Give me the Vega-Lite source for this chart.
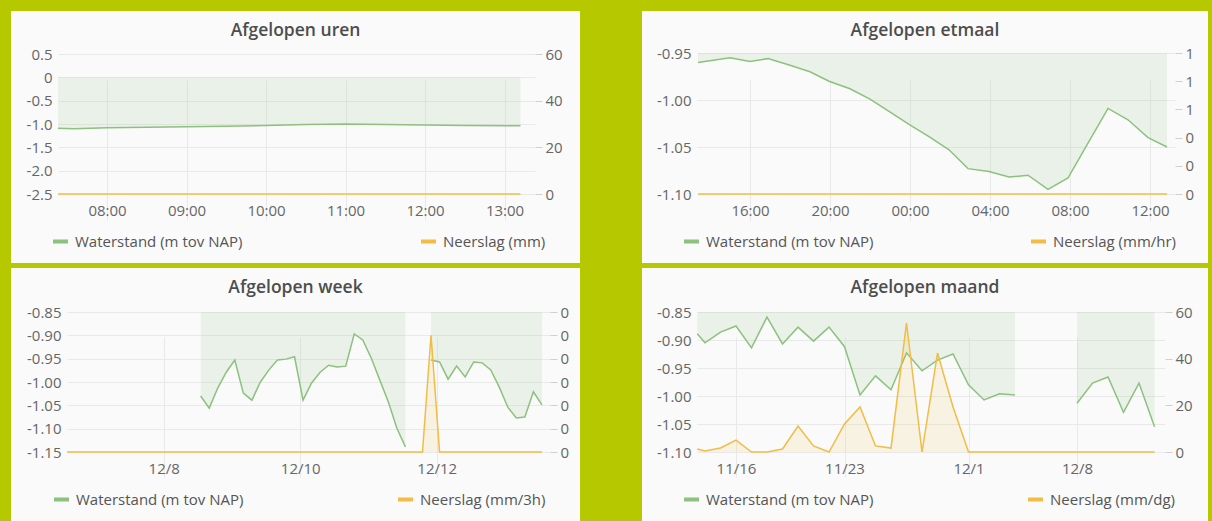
{
  "$schema": "https://vega.github.io/schema/vega-lite/v6.json",
  "background": "#b5c800",
  "padding": {"left": 11, "top": 11, "right": 4, "bottom": 0},
  "datasets": {
    "tlW": [
      {"t": "2023-12-13T07:23", "v": -1.09}, {"t": "2023-12-13T07:35", "v": -1.1}, {"t": "2023-12-13T08:00", "v": -1.08},
      {"t": "2023-12-13T08:30", "v": -1.07}, {"t": "2023-12-13T09:00", "v": -1.06}, {"t": "2023-12-13T09:30", "v": -1.05},
      {"t": "2023-12-13T10:00", "v": -1.03}, {"t": "2023-12-13T10:30", "v": -1.01}, {"t": "2023-12-13T11:00", "v": -1.0},
      {"t": "2023-12-13T11:30", "v": -1.01}, {"t": "2023-12-13T12:00", "v": -1.02}, {"t": "2023-12-13T12:30", "v": -1.03},
      {"t": "2023-12-13T13:12", "v": -1.04}
    ],
    "tlN": [{"t": "2023-12-13T07:23", "v": 0}, {"t": "2023-12-13T13:12", "v": 0}],
    "trW": [
      {"t": "2023-12-12T13:24", "v": -0.96}, {"t": "2023-12-12T15:00", "v": -0.955}, {"t": "2023-12-12T16:00", "v": -0.959},
      {"t": "2023-12-12T16:54", "v": -0.956}, {"t": "2023-12-12T18:00", "v": -0.963}, {"t": "2023-12-12T19:00", "v": -0.97},
      {"t": "2023-12-12T19:57", "v": -0.98}, {"t": "2023-12-12T21:00", "v": -0.988}, {"t": "2023-12-12T22:00", "v": -0.999},
      {"t": "2023-12-12T22:57", "v": -1.012}, {"t": "2023-12-12T23:57", "v": -1.026}, {"t": "2023-12-13T00:57", "v": -1.039},
      {"t": "2023-12-13T01:57", "v": -1.053}, {"t": "2023-12-13T02:54", "v": -1.073}, {"t": "2023-12-13T03:57", "v": -1.076},
      {"t": "2023-12-13T04:57", "v": -1.082}, {"t": "2023-12-13T05:54", "v": -1.08}, {"t": "2023-12-13T06:54", "v": -1.095},
      {"t": "2023-12-13T07:54", "v": -1.083}, {"t": "2023-12-13T08:54", "v": -1.046}, {"t": "2023-12-13T09:54", "v": -1.009},
      {"t": "2023-12-13T10:54", "v": -1.021}, {"t": "2023-12-13T11:54", "v": -1.04}, {"t": "2023-12-13T12:51", "v": -1.05}
    ],
    "trN": [{"t": "2023-12-12T13:24", "v": 0}, {"t": "2023-12-13T12:51", "v": 0}],
    "blW": [
      {"t": "2023-12-08T13:00", "v": -1.03}, {"t": "2023-12-08T16:00", "v": -1.056}, {"t": "2023-12-08T19:00", "v": -1.013},
      {"t": "2023-12-08T22:00", "v": -0.979}, {"t": "2023-12-09T01:00", "v": -0.953}, {"t": "2023-12-09T04:00", "v": -1.024},
      {"t": "2023-12-09T07:00", "v": -1.039}, {"t": "2023-12-09T10:00", "v": -1.0}, {"t": "2023-12-09T13:00", "v": -0.974},
      {"t": "2023-12-09T16:00", "v": -0.953}, {"t": "2023-12-09T19:00", "v": -0.951}, {"t": "2023-12-09T22:00", "v": -0.946},
      {"t": "2023-12-10T01:00", "v": -1.039}, {"t": "2023-12-10T04:00", "v": -1.002}, {"t": "2023-12-10T07:00", "v": -0.979},
      {"t": "2023-12-10T10:00", "v": -0.964}, {"t": "2023-12-10T13:00", "v": -0.968}, {"t": "2023-12-10T16:00", "v": -0.966},
      {"t": "2023-12-10T19:00", "v": -0.897}, {"t": "2023-12-10T22:00", "v": -0.91}, {"t": "2023-12-11T01:00", "v": -0.949},
      {"t": "2023-12-11T04:00", "v": -0.996}, {"t": "2023-12-11T07:00", "v": -1.043}, {"t": "2023-12-11T10:00", "v": -1.099},
      {"t": "2023-12-11T13:00", "v": -1.139}, {"t": "2023-12-11T17:00", "v": null},
      {"t": "2023-12-11T22:00", "v": -0.953}, {"t": "2023-12-12T01:00", "v": -0.957}, {"t": "2023-12-12T04:00", "v": -0.994},
      {"t": "2023-12-12T07:00", "v": -0.966}, {"t": "2023-12-12T10:00", "v": -0.989}, {"t": "2023-12-12T13:00", "v": -0.957},
      {"t": "2023-12-12T16:00", "v": -0.959}, {"t": "2023-12-12T19:00", "v": -0.974}, {"t": "2023-12-12T22:00", "v": -1.011},
      {"t": "2023-12-13T01:00", "v": -1.054}, {"t": "2023-12-13T04:00", "v": -1.077}, {"t": "2023-12-13T07:00", "v": -1.075},
      {"t": "2023-12-13T10:00", "v": -1.021}, {"t": "2023-12-13T13:00", "v": -1.049}
    ],
    "blN": [
      {"t": "2023-12-06T14:00", "v": 0}, {"t": "2023-12-11T19:00", "v": 0}, {"t": "2023-12-11T22:00", "v": 0.25},
      {"t": "2023-12-12T01:00", "v": 0}, {"t": "2023-12-13T13:00", "v": 0}
    ],
    "brW": [
      {"t": "2023-11-13T12:00", "v": -0.889}, {"t": "2023-11-14T00:00", "v": -0.905}, {"t": "2023-11-15T00:00", "v": -0.886},
      {"t": "2023-11-16T00:00", "v": -0.875}, {"t": "2023-11-17T00:00", "v": -0.914}, {"t": "2023-11-18T00:00", "v": -0.859},
      {"t": "2023-11-19T00:00", "v": -0.907}, {"t": "2023-11-20T00:00", "v": -0.877}, {"t": "2023-11-21T00:00", "v": -0.902},
      {"t": "2023-11-22T00:00", "v": -0.877}, {"t": "2023-11-23T00:00", "v": -0.912}, {"t": "2023-11-24T00:00", "v": -0.998},
      {"t": "2023-11-25T00:00", "v": -0.964}, {"t": "2023-11-26T00:00", "v": -0.989}, {"t": "2023-11-27T00:00", "v": -0.923},
      {"t": "2023-11-28T00:00", "v": -0.955}, {"t": "2023-11-29T00:00", "v": -0.936}, {"t": "2023-11-30T00:00", "v": -0.925},
      {"t": "2023-12-01T00:00", "v": -0.98}, {"t": "2023-12-02T00:00", "v": -1.007}, {"t": "2023-12-03T00:00", "v": -0.996},
      {"t": "2023-12-04T00:00", "v": -0.998}, {"t": "2023-12-06T00:00", "v": null}, {"t": "2023-12-08T00:00", "v": -1.013},
      {"t": "2023-12-09T00:00", "v": -0.977}, {"t": "2023-12-10T00:00", "v": -0.966}, {"t": "2023-12-11T00:00", "v": -1.029},
      {"t": "2023-12-12T00:00", "v": -0.977}, {"t": "2023-12-13T00:00", "v": -1.055}
    ],
    "brN": [
      {"t": "2023-11-13T12:00", "v": 1.3}, {"t": "2023-11-14T00:00", "v": 0.4}, {"t": "2023-11-15T00:00", "v": 1.7},
      {"t": "2023-11-16T00:00", "v": 5.1}, {"t": "2023-11-17T00:00", "v": 0}, {"t": "2023-11-18T00:00", "v": 0},
      {"t": "2023-11-19T00:00", "v": 1.3}, {"t": "2023-11-20T00:00", "v": 11.1}, {"t": "2023-11-21T00:00", "v": 2.6},
      {"t": "2023-11-22T00:00", "v": 0}, {"t": "2023-11-23T00:00", "v": 12}, {"t": "2023-11-24T00:00", "v": 19.3},
      {"t": "2023-11-25T00:00", "v": 2.6}, {"t": "2023-11-26T00:00", "v": 1.7}, {"t": "2023-11-27T00:00", "v": 55.3},
      {"t": "2023-11-28T00:00", "v": 0}, {"t": "2023-11-29T00:00", "v": 42.4}, {"t": "2023-11-30T00:00", "v": 19.3},
      {"t": "2023-12-01T00:00", "v": 0}, {"t": "2023-12-13T00:00", "v": 0}
    ]
  },
  "spacing": 5,
  "vconcat": [
    {
      "spacing": 62,
      "hconcat": [
        {
          "width": 569, "height": 252,
          "view": {"fill": "#fafafa", "stroke": null},
          "title": {"text": "Afgelopen uren", "offset": -28, "frame": "group"},
          "layer": [
            {
              "data": {"name": "tlW"},
              "encoding": {
                "x": {"field": "t", "type": "temporal", "title": null,
                  "scale": {"domain": [{"year": 2023, "month": 12, "date": 13, "hours": 7, "minutes": 23}, {"year": 2023, "month": 12, "date": 13, "hours": 13, "minutes": 23}], "range": [47, 524]},
                  "axis": {"format": "%H:%M", "offset": -69, "values": [
                    {"year": 2023, "month": 12, "date": 13, "hours": 8}, {"year": 2023, "month": 12, "date": 13, "hours": 9},
                    {"year": 2023, "month": 12, "date": 13, "hours": 10}, {"year": 2023, "month": 12, "date": 13, "hours": 11},
                    {"year": 2023, "month": 12, "date": 13, "hours": 12}, {"year": 2023, "month": 12, "date": 13, "hours": 13}]}},
                "y": {"field": "v", "type": "quantitative", "title": null,
                  "scale": {"domain": [-2.5, 0.5], "range": [183, 43], "nice": false, "zero": false},
                  "axis": {"orient": "left", "offset": -47, "values": [-2.5, -2, -1.5, -1, -0.5, 0, 0.5], "labelExpr": "datum.value == 0 ? '0' : format(datum.value, '.1f')"}}
              },
              "layer": [
                {"mark": {"type": "area", "color": "#8cc17e", "opacity": 0.14}, "encoding": {"y2": {"datum": 0}}},
                {"mark": {"type": "line", "strokeWidth": 1.5},
                 "encoding": {"color": {"datum": "Waterstand (m tov NAP)", "scale": {"range": ["#8cc17e"]}, "legend": {"orient": "none", "legendX": 40, "legendY": 221, "title": null}}}}
              ]
            },
            {
              "data": {"name": "tlN"},
              "encoding": {
                "x": {"field": "t", "type": "temporal", "title": null,
                  "scale": {"domain": [{"year": 2023, "month": 12, "date": 13, "hours": 7, "minutes": 23}, {"year": 2023, "month": 12, "date": 13, "hours": 13, "minutes": 23}], "range": [47, 524]},
                  "axis": {"format": "%H:%M", "offset": -69, "values": [
                    {"year": 2023, "month": 12, "date": 13, "hours": 8}, {"year": 2023, "month": 12, "date": 13, "hours": 9},
                    {"year": 2023, "month": 12, "date": 13, "hours": 10}, {"year": 2023, "month": 12, "date": 13, "hours": 11},
                    {"year": 2023, "month": 12, "date": 13, "hours": 12}, {"year": 2023, "month": 12, "date": 13, "hours": 13}]}},
                "y": {"field": "v", "type": "quantitative", "title": null,
                  "scale": {"domain": [0, 60], "range": [183, 43], "nice": false},
                  "axis": {"orient": "right", "offset": -45, "values": [0, 20, 40, 60], "format": ".0f"}}
              },
              "layer": [
                {"mark": {"type": "area", "color": "#f2bc45", "opacity": 0.12}, "encoding": {"y2": {"datum": 0}}},
                {"mark": {"type": "line", "strokeWidth": 1.5},
                 "encoding": {"color": {"datum": "Neerslag (mm)", "scale": {"range": ["#f2bc45"]}, "legend": {"orient": "none", "legendX": 408, "legendY": 221, "title": null}}}}
              ]
            }
          ],
          "resolve": {"scale": {"y": "independent", "color": "independent"}}
        },
        {
          "width": 566, "height": 252,
          "view": {"fill": "#fafafa", "stroke": null},
          "title": {"text": "Afgelopen etmaal", "offset": -28, "frame": "group"},
          "layer": [
            {
              "data": {"name": "trW"},
              "encoding": {
                "x": {"field": "t", "type": "temporal", "title": null,
                  "scale": {"domain": [{"year": 2023, "month": 12, "date": 12, "hours": 13, "minutes": 21}, {"year": 2023, "month": 12, "date": 13, "hours": 13, "minutes": 15}], "range": [55, 533]},
                  "axis": {"format": "%H:%M", "offset": -69, "values": [
                    {"year": 2023, "month": 12, "date": 12, "hours": 16}, {"year": 2023, "month": 12, "date": 12, "hours": 20},
                    {"year": 2023, "month": 12, "date": 13, "hours": 0}, {"year": 2023, "month": 12, "date": 13, "hours": 4},
                    {"year": 2023, "month": 12, "date": 13, "hours": 8}, {"year": 2023, "month": 12, "date": 13, "hours": 12}]}},
                "y": {"field": "v", "type": "quantitative", "title": null,
                  "scale": {"domain": [-1.1, -0.95], "range": [183, 42], "nice": false, "zero": false},
                  "axis": {"orient": "left", "offset": -55, "values": [-1.1, -1.05, -1, -0.95], "format": ".2f"}}
              },
              "layer": [
                {"mark": {"type": "area", "color": "#8cc17e", "opacity": 0.14}, "encoding": {"y2": {"datum": -0.95}}},
                {"mark": {"type": "line", "strokeWidth": 1.5},
                 "encoding": {"color": {"datum": "Waterstand (m tov NAP)", "scale": {"range": ["#8cc17e"]}, "legend": {"orient": "none", "legendX": 40, "legendY": 221, "title": null}}}}
              ]
            },
            {
              "data": {"name": "trN"},
              "encoding": {
                "x": {"field": "t", "type": "temporal", "title": null,
                  "scale": {"domain": [{"year": 2023, "month": 12, "date": 12, "hours": 13, "minutes": 21}, {"year": 2023, "month": 12, "date": 13, "hours": 13, "minutes": 15}], "range": [55, 533]},
                  "axis": {"format": "%H:%M", "offset": -69, "values": [
                    {"year": 2023, "month": 12, "date": 12, "hours": 16}, {"year": 2023, "month": 12, "date": 12, "hours": 20},
                    {"year": 2023, "month": 12, "date": 13, "hours": 0}, {"year": 2023, "month": 12, "date": 13, "hours": 4},
                    {"year": 2023, "month": 12, "date": 13, "hours": 8}, {"year": 2023, "month": 12, "date": 13, "hours": 12}]}},
                "y": {"field": "v", "type": "quantitative", "title": null,
                  "scale": {"domain": [0, 1], "range": [183, 42], "nice": false},
                  "axis": {"orient": "right", "offset": -33, "values": [0, 0.2, 0.4, 0.6, 0.8, 1], "format": ".0f"}}
              },
              "layer": [
                {"mark": {"type": "area", "color": "#f2bc45", "opacity": 0.12}, "encoding": {"y2": {"datum": 0}}},
                {"mark": {"type": "line", "strokeWidth": 1.5},
                 "encoding": {"color": {"datum": "Neerslag (mm/hr)", "scale": {"range": ["#f2bc45"]}, "legend": {"orient": "none", "legendX": 387, "legendY": 221, "title": null}}}}
              ]
            }
          ],
          "resolve": {"scale": {"y": "independent", "color": "independent"}}
        }
      ]
    },
    {
      "spacing": 62,
      "hconcat": [
        {
          "width": 569, "height": 253,
          "view": {"fill": "#fafafa", "stroke": null},
          "title": {"text": "Afgelopen week", "offset": -28, "frame": "group"},
          "layer": [
            {
              "data": {"name": "blW"},
              "encoding": {
                "x": {"field": "t", "type": "temporal", "title": null,
                  "scale": {"domain": [{"year": 2023, "month": 12, "date": 6, "hours": 14}, {"year": 2023, "month": 12, "date": 13, "hours": 15, "minutes": 50}], "range": [56, 539]},
                  "axis": {"format": "%-m/%-d", "offset": -69, "values": [
                    {"year": 2023, "month": 12, "date": 8}, {"year": 2023, "month": 12, "date": 10}, {"year": 2023, "month": 12, "date": 12}]}},
                "y": {"field": "v", "type": "quantitative", "title": null,
                  "scale": {"domain": [-1.15, -0.85], "range": [184, 44], "nice": false, "zero": false},
                  "axis": {"orient": "left", "offset": -56, "values": [-1.15, -1.1, -1.05, -1, -0.95, -0.9, -0.85], "format": ".2f"}}
              },
              "layer": [
                {"mark": {"type": "area", "color": "#8cc17e", "opacity": 0.14}, "encoding": {"y2": {"datum": -0.85}}},
                {"mark": {"type": "line", "strokeWidth": 1.5},
                 "encoding": {"color": {"datum": "Waterstand (m tov NAP)", "scale": {"range": ["#8cc17e"]}, "legend": {"orient": "none", "legendX": 41, "legendY": 222, "title": null}}}}
              ]
            },
            {
              "data": {"name": "blN"},
              "encoding": {
                "x": {"field": "t", "type": "temporal", "title": null,
                  "scale": {"domain": [{"year": 2023, "month": 12, "date": 6, "hours": 14}, {"year": 2023, "month": 12, "date": 13, "hours": 15, "minutes": 50}], "range": [56, 539]},
                  "axis": {"format": "%-m/%-d", "offset": -69, "values": [
                    {"year": 2023, "month": 12, "date": 8}, {"year": 2023, "month": 12, "date": 10}, {"year": 2023, "month": 12, "date": 12}]}},
                "y": {"field": "v", "type": "quantitative", "title": null,
                  "scale": {"domain": [0, 0.3], "range": [184, 44], "nice": false},
                  "axis": {"orient": "right", "offset": -30, "values": [0, 0.05, 0.1, 0.15, 0.2, 0.25, 0.3], "format": ".0f"}}
              },
              "layer": [
                {"mark": {"type": "area", "color": "#f2bc45", "opacity": 0.12}, "encoding": {"y2": {"datum": 0}}},
                {"mark": {"type": "line", "strokeWidth": 1.5},
                 "encoding": {"color": {"datum": "Neerslag (mm/3h)", "scale": {"range": ["#f2bc45"]}, "legend": {"orient": "none", "legendX": 385, "legendY": 222, "title": null}}}}
              ]
            }
          ],
          "resolve": {"scale": {"y": "independent", "color": "independent"}}
        },
        {
          "width": 566, "height": 253,
          "view": {"fill": "#fafafa", "stroke": null},
          "title": {"text": "Afgelopen maand", "offset": -28, "frame": "group"},
          "layer": [
            {
              "data": {"name": "brW"},
              "encoding": {
                "x": {"field": "t", "type": "temporal", "title": null,
                  "scale": {"domain": [{"year": 2023, "month": 11, "date": 13, "hours": 11, "minutes": 36}, {"year": 2023, "month": 12, "date": 13, "hours": 16, "minutes": 14}], "range": [55, 523]},
                  "axis": {"format": "%-m/%-d", "offset": -69, "values": [
                    {"year": 2023, "month": 11, "date": 16}, {"year": 2023, "month": 11, "date": 23}, {"year": 2023, "month": 12, "date": 1}, {"year": 2023, "month": 12, "date": 8}]}},
                "y": {"field": "v", "type": "quantitative", "title": null,
                  "scale": {"domain": [-1.1, -0.85], "range": [184, 44], "nice": false, "zero": false},
                  "axis": {"orient": "left", "offset": -55, "values": [-1.1, -1.05, -1, -0.95, -0.9, -0.85], "format": ".2f"}}
              },
              "layer": [
                {"mark": {"type": "area", "color": "#8cc17e", "opacity": 0.14}, "encoding": {"y2": {"datum": -0.85}}},
                {"mark": {"type": "line", "strokeWidth": 1.5},
                 "encoding": {"color": {"datum": "Waterstand (m tov NAP)", "scale": {"range": ["#8cc17e"]}, "legend": {"orient": "none", "legendX": 40, "legendY": 222, "title": null}}}}
              ]
            },
            {
              "data": {"name": "brN"},
              "encoding": {
                "x": {"field": "t", "type": "temporal", "title": null,
                  "scale": {"domain": [{"year": 2023, "month": 11, "date": 13, "hours": 11, "minutes": 36}, {"year": 2023, "month": 12, "date": 13, "hours": 16, "minutes": 14}], "range": [55, 523]},
                  "axis": {"format": "%-m/%-d", "offset": -69, "values": [
                    {"year": 2023, "month": 11, "date": 16}, {"year": 2023, "month": 11, "date": 23}, {"year": 2023, "month": 12, "date": 1}, {"year": 2023, "month": 12, "date": 8}]}},
                "y": {"field": "v", "type": "quantitative", "title": null,
                  "scale": {"domain": [0, 60], "range": [184, 44], "nice": false},
                  "axis": {"orient": "right", "offset": -43, "values": [0, 20, 40, 60], "format": ".0f"}}
              },
              "layer": [
                {"mark": {"type": "area", "color": "#f2bc45", "opacity": 0.12}, "encoding": {"y2": {"datum": 0}}},
                {"mark": {"type": "line", "strokeWidth": 1.5},
                 "encoding": {"color": {"datum": "Neerslag (mm/dg)", "scale": {"range": ["#f2bc45"]}, "legend": {"orient": "none", "legendX": 384, "legendY": 222, "title": null}}}}
              ]
            }
          ],
          "resolve": {"scale": {"y": "independent", "color": "independent"}}
        }
      ]
    }
  ],
  "config": {
    "font": "Open Sans",
    "view": {"stroke": null},
    "locale": {"number": {"decimal": ".", "thousands": ",", "grouping": [3], "currency": ["$", ""], "minus": "-"}},
    "title": {"font": "Open Sans", "fontSize": 17.5, "fontWeight": 600, "color": "#4d4d4d", "anchor": "middle"},
    "axis": {"domain": false, "ticks": false, "grid": false, "labelFont": "Open Sans", "labelFontSize": 15, "labelColor": "#666666", "gridColor": "#e9e9e9", "tickColor": "#d0d0d0", "tickSize": 7, "labelPadding": 6},
    "axisX": {"grid": true, "labelPadding": 9, "labelFlush": false, "labelOverlap": false},
    "axisLeft": {"grid": true},
    "axisRight": {"ticks": true, "labelPadding": 3},
    "legend": {"symbolType": "stroke", "symbolStrokeWidth": 4, "symbolSize": 225, "labelFont": "Open Sans", "labelFontSize": 15, "labelColor": "#555555", "labelOffset": 5, "labelLimit": 300, "padding": 0}
  }
}
